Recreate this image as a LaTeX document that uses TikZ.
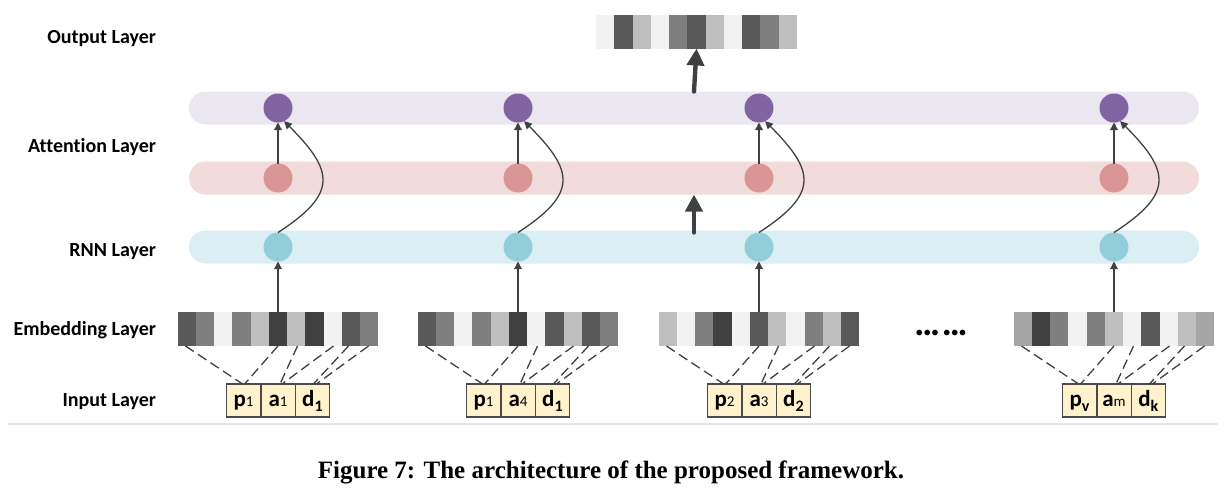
\documentclass[tikz,border=0pt]{standalone}
\usepackage{fontspec}
\setmainfont{Liberation Serif}
\newfontfamily\calfont[Ligatures=NoCommon]{Carlito}
\usetikzlibrary{arrows.meta}

\definecolor{g1}{HTML}{404040}
\definecolor{g2}{HTML}{595959}
\definecolor{g3}{HTML}{7F7F7F}
\definecolor{g4}{HTML}{A6A6A6}
\definecolor{g5}{HTML}{BFBFBF}
\definecolor{g6}{HTML}{F2F2F2}
\definecolor{attband}{HTML}{EBE7F0}
\definecolor{ctxband}{HTML}{F2DBDB}
\definecolor{rnnband}{HTML}{DAEEF3}
\definecolor{attunit}{HTML}{8064A2}
\definecolor{ctxunit}{HTML}{DA9694}
\definecolor{rnnunit}{HTML}{92CDDC}
\definecolor{boxfill}{HTML}{FFF2CC}
\definecolor{boxline}{HTML}{4A4A4A}
\definecolor{linec}{HTML}{404040}

\newcommand{\smallidx}[2]{#1{\mdseries\fontsize{7.5}{7.5}\selectfont #2}}
\newcommand{\lowidx}[2]{#1\raisebox{-2.5pt}{\fontsize{8}{8}\selectfont #2}}

\begin{document}
\begin{tikzpicture}[x=0.5pt, y=-0.5pt,
  layername/.style={anchor=base east, font=\calfont\bfseries\fontsize{10}{12}\selectfont},
  band/.style={minimum width=505pt, minimum height=16.5pt, rounded corners=8.25pt, inner sep=0pt, outer sep=0pt},
  unit/.style={circle, minimum size=14.5pt, inner sep=0pt, outer sep=0pt},
  strip/.style={minimum width=100.5pt, minimum height=17pt, inner sep=0pt, outer sep=0pt},
  token/.style={draw=boxline, line width=0.7pt, fill=boxfill, minimum width=17.2pt, minimum height=16.5pt,
    inner sep=0pt, outer sep=0pt, text height=8pt, text depth=2.5pt, font=\calfont\bfseries\fontsize{11.5}{12}\selectfont},
  link/.style={draw=linec, line width=0.65pt, -{Triangle[length=3.8pt,width=3.8pt]}},
  lookup/.style={draw=linec, line width=0.65pt, dash pattern=on 5pt off 2.5pt},
  flow/.style={draw=linec, line width=2.2pt, line cap=round, -{Triangle[length=8.5pt,width=8.5pt]}}]
\useasboundingbox (0,0) rectangle (1228,488);

\node[layername] at (163,43) {Output Layer};
\node[layername] at (163,152) {Attention Layer};
\node[layername] at (163,256) {RNN Layer};
\node[layername] at (163,335) {Embedding Layer};
\node[layername] at (163,406) {Input Layer};

\node[band, fill=attband] (attbar) at (694,108) {};
\node[band, fill=ctxband] (ctxbar) at (694,178) {};
\node[band, fill=rnnband] (rnnbar) at (694,247) {};

\node[strip] (outvec) at (696.5,31.5) {};
\foreach \g [count=\k] in {6,2,5,6,3,2,5,6,2,3,5}
  \fill[g\g] ([xshift={(\k-1)*9.136pt}]outvec.north west) rectangle ++(9.136pt,-17pt);

\foreach \i/\cx/\cols/\ptxt/\atxt/\dtxt in {
  1/278/{2,3,6,3,5,1,5,1,6,2,3}/{\smallidx{p}{1}}/{\smallidx{a}{1}}/{\lowidx{d}{1}},
  2/518/{2,3,6,3,5,1,6,2,5,2,3}/{\smallidx{p}{1}}/{\smallidx{a}{4}}/{\lowidx{d}{1}},
  3/759/{5,6,3,1,6,2,5,6,3,5,2}/{\smallidx{p}{2}}/{\smallidx{a}{3}}/{\lowidx{d}{2}},
  4/1114/{4,1,3,6,3,5,6,2,6,5,4}/{\lowidx{p}{v}}/{\smallidx{a}{m}}/{\lowidx{d}{k}}} {
  \node[unit, fill=attunit] (att\i) at (\cx,108) {};
  \node[unit, fill=ctxunit] (ctx\i) at (\cx,178) {};
  \node[unit, fill=rnnunit] (rnn\i) at (\cx,247) {};
  \node[strip] (emb\i) at (\cx,329) {};
  \foreach \g [count=\k] in \cols
    \fill[g\g] ([xshift={(\k-1)*9.136pt}]emb\i.north west) rectangle ++(9.136pt,-17pt);
  \node[token] (a\i) at (\cx,400.5) {\atxt};
  \node[token, anchor=east] (p\i) at (a\i.west) {\ptxt};
  \node[token, anchor=west] (d\i) at (a\i.east) {\dtxt};
  \draw[link] (emb\i.north) -- (rnn\i.south);
  \draw[link] (ctx\i.north) -- (att\i.south);
  \draw[link] (rnn\i.north) .. controls +(30pt,19.5pt) and +(25pt,-25pt) .. (att\i.-65);
  \draw[lookup] ([xshift=-46.25pt]emb\i.south) -- ([xshift=-0.5pt]p\i.north);
  \draw[lookup] (emb\i.south) -- ([xshift=0.5pt]p\i.north);
  \draw[lookup] ([xshift=9.75pt]emb\i.south) -- ([xshift=1pt]a\i.north);
  \draw[lookup] ([xshift=27.75pt]emb\i.south) -- ([xshift=2pt]a\i.north);
  \draw[lookup] ([xshift=35.25pt]emb\i.south) -- ([xshift=0.5pt]d\i.north);
  \draw[lookup] ([xshift=45.25pt]emb\i.south) -- ([xshift=2pt]d\i.north);
}

\draw[flow] (attbar.north) -- (outvec.south);
\draw[flow] ([yshift=-1pt]rnnbar.north) -- (ctxbar.south);

\node[font=\calfont\fontsize{8}{8}\selectfont] (dots) at (941,334) {••• •••};

\draw[gray!20, line width=0.75pt] (8,424) -- (1218,424);
\node[anchor=base, font=\bfseries\fontsize{12.5}{14}\selectfont] (caption) at (611,478)
  {Figure 7: The architecture of the proposed framework.};
\end{tikzpicture}
\end{document}
